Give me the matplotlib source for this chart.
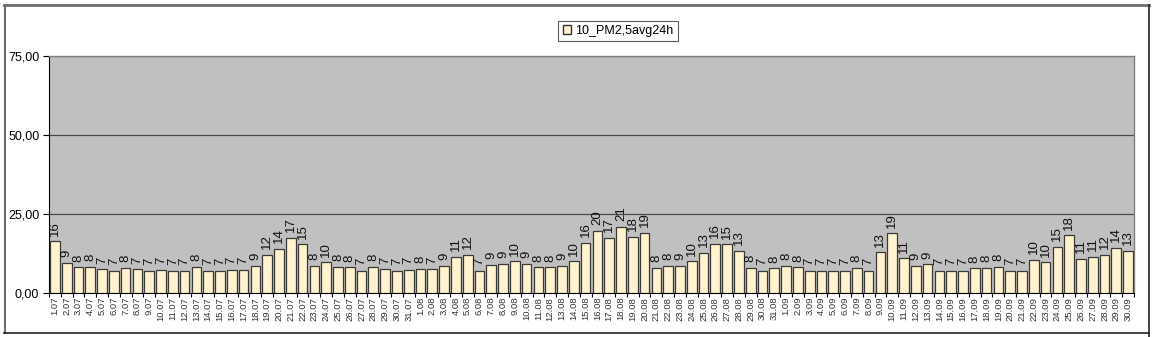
import numpy as np
import matplotlib.pyplot as plt
from matplotlib.lines import Line2D
from matplotlib.patches import Patch

plt.rcParams['font.family'] = ['Liberation Sans', 'DejaVu Sans']

# daily PM2.5 24h averages, 1 July - 30 September
jul = [16.3, 9.4, 8.0, 8.3, 7.4, 7.0, 7.9, 7.4, 7.0, 7.3, 6.9, 7.0, 8.2, 6.9, 6.9,
       7.3, 7.3, 8.6, 12.1, 14.0, 17.4, 15.3, 8.5, 9.6, 8.2, 8.0, 7.0, 8.2, 7.4, 7.0, 7.3]
aug = [7.6, 7.4, 8.6, 11.4, 12.1, 7.0, 8.9, 9.2, 9.9, 9.2, 8.0, 8.0, 8.6, 9.9, 15.9,
       19.6, 17.4, 20.9, 17.8, 19.0, 7.9, 8.5, 8.6, 9.9, 12.7, 15.5, 15.3, 13.2, 7.9, 6.9, 7.7]
sep = [8.5, 8.0, 7.0, 7.0, 7.0, 7.0, 7.9, 7.0, 12.8, 18.8, 10.9, 8.6, 9.0, 6.9, 7.0,
       7.0, 7.7, 7.9, 8.1, 6.9, 6.9, 10.4, 9.6, 14.6, 18.2, 10.8, 11.4, 12.0, 14.3, 13.2]

values = jul + aug + sep
dates = ([f"{d}.07" for d in range(1, 32)] + [f"{d}.08" for d in range(1, 32)]
         + [f"{d}.09" for d in range(1, 31)])
series_name = "10_PM2,5avg24h"

fig = plt.figure(figsize=(11.55, 3.37), dpi=100)
ax = fig.add_axes([49 / 1155, 1 - 292.7 / 337, (1134 - 49) / 1155, (292.7 - 56) / 337])

x = np.arange(len(values))
bar_color = '#FFF2CC'
ax.bar(x, values, width=0.82, color=bar_color, edgecolor='#3a3a3a', linewidth=0.9, zorder=3)

for xi, v in zip(x, values):
    ax.text(xi, v + 1.8, f"{round(v):d}", rotation=90, ha='center', va='bottom',
            fontsize=9.5, color='#111111', zorder=4)

ax.set_facecolor('#C0C0C0')
ax.set_xlim(-0.5, len(values) - 0.5)
ax.set_ylim(0, 75)
ax.set_yticks([0, 25, 50, 75])
ax.set_yticklabels(["0,00", "25,00", "50,00", "75,00"], fontsize=9)
ax.grid(axis='y', color='#4a4a4a', linewidth=0.9, zorder=1)

ax.set_xticks(np.arange(len(values) + 1) - 0.5)
ax.set_xticklabels([])
ax.set_xticks(x, minor=True)
ax.set_xticklabels(dates, minor=True, rotation=90, fontsize=6.8, color='#333333')
ax.tick_params(axis='x', which='major', length=3, direction='out', color='#000000')
ax.tick_params(axis='x', which='minor', length=0, pad=3)
ax.tick_params(axis='y', length=4, direction='out', pad=3)

for side in ['top', 'right']:
    ax.spines[side].set_color('#808080')
    ax.spines[side].set_linewidth(1)
ax.spines['left'].set_color('#000000')
ax.spines['bottom'].set_color('#000000')

legend = fig.legend(handles=[Patch(facecolor=bar_color, edgecolor='#333333', label=series_name)],
                    loc='center', bbox_to_anchor=(618 / 1155, 1 - 31 / 337), fontsize=9,
                    frameon=True, fancybox=False, handlelength=0.7, handleheight=0.7,
                    handletextpad=0.3, borderpad=0.35)
legend.get_frame().set_edgecolor('#333333')
legend.get_frame().set_linewidth(0.8)

# outer chart frame
W, H = 1155, 337
fig.add_artist(Line2D([4 / W, 1149 / W], [1 - 5 / H, 1 - 5 / H], color='#6d6d6d', linewidth=2,
                      transform=fig.transFigure))
fig.add_artist(Line2D([4.5 / W, 4.5 / W], [1 - 5 / H, 1 - 333 / H], color='#6d6d6d', linewidth=1.5,
                      transform=fig.transFigure))
fig.add_artist(Line2D([1149 / W, 1149 / W], [1 - 5 / H, 0], color='#222222', linewidth=1.2,
                      transform=fig.transFigure))
fig.add_artist(Line2D([4 / W, 1149 / W], [1 - 333 / H, 1 - 333 / H], color='#222222', linewidth=1.2,
                      transform=fig.transFigure))

fig.savefig('out.png', dpi=100)
